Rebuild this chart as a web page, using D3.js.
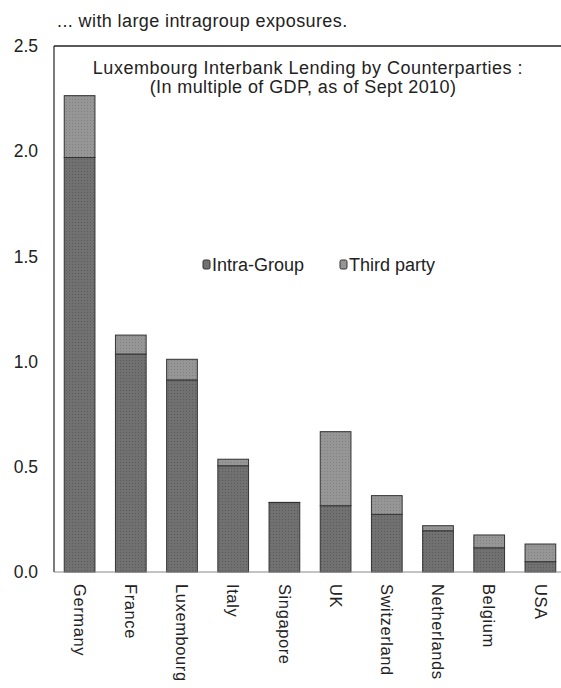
<!DOCTYPE html>
<html>
<head>
<meta charset="utf-8">
<script src="https://cdn.jsdelivr.net/npm/d3@7"></script>
<style>
  body { margin: 0; background: #fff; }
  svg { display: block; font-family: "Liberation Sans", Arial, sans-serif; }
</style>
</head>
<body>
<svg id="chart" width="561" height="688"></svg>
<script>
const categories = ["Germany","France","Luxembourg","Italy","Singapore","UK","Switzerland","Netherlands","Belgium","USA"];
const intraGroup = [1.97, 1.036, 0.913, 0.505, 0.33, 0.315, 0.274, 0.196, 0.115, 0.049];
const thirdParty = [0.294, 0.09, 0.098, 0.031, 0.001, 0.352, 0.089, 0.024, 0.061, 0.084];
const seriesNames = ["Intra-Group", "Third party"];
const yTicks = [0, 0.5, 1.0, 1.5, 2.0, 2.5];

const colors = {"Intra-Group": "#717171", "Third party": "#969696"};

const svg = d3.select("#chart");
const mLeft = 54, mRight = 566, mTop = 46, mBottom = 572;

const x = d3.scaleBand().domain(categories).range([mLeft, mRight]).paddingInner(0.4).paddingOuter(0.2);
const y = d3.scaleLinear().domain([0, 2.5]).range([mBottom, mTop]);

const rows = categories.map((c, i) => ({cat: c, "Intra-Group": intraGroup[i], "Third party": thirdParty[i]}));
const stacked = d3.stack().keys(seriesNames)(rows);

// stipple pattern for scanned look
const defs = svg.append("defs");
seriesNames.forEach((s, k) => {
  const p = defs.append("pattern").attr("id", "pat" + k).attr("width", 3).attr("height", 3).attr("patternUnits", "userSpaceOnUse");
  p.append("rect").attr("width", 3).attr("height", 3).attr("fill", colors[s]);
  p.append("rect").attr("width", 1).attr("height", 1).attr("fill", k === 0 ? "#5a5a5a" : "#808080");
});

// bars
stacked.forEach((layer, k) => {
  svg.append("g").selectAll("rect").data(layer).join("rect")
    .attr("x", d => x(d.data.cat))
    .attr("width", x.bandwidth())
    .attr("y", d => y(d[1]))
    .attr("height", d => Math.max(0, y(d[0]) - y(d[1])))
    .attr("fill", "url(#pat" + k + ")")
    .attr("stroke", "#333")
    .attr("stroke-width", 1);
});

// frame: left axis, top line, bottom line
svg.append("line").attr("x1", mLeft).attr("x2", mLeft).attr("y1", y(2.5)).attr("y2", y(0)).attr("stroke", "#222").attr("stroke-width", 1.2);
svg.append("line").attr("x1", mLeft).attr("x2", 561).attr("y1", y(2.5)).attr("y2", y(2.5)).attr("stroke", "#222").attr("stroke-width", 1.6);
svg.append("line").attr("x1", mLeft).attr("x2", 561).attr("y1", y(0)).attr("y2", y(0)).attr("stroke", "#888").attr("stroke-width", 1.2);

// y axis labels
const yAxis = d3.axisLeft(y).tickValues(yTicks).tickFormat(d3.format(".1f")).tickSize(0).tickPadding(16);
const ga = svg.append("g").attr("transform", `translate(${mLeft},0)`).call(yAxis);
ga.select(".domain").remove();
ga.selectAll("text").attr("font-size", 17.5).attr("fill", "#222").attr("font-family", "Liberation Sans, Arial, sans-serif");

// x labels rotated
const xAxis = d3.axisBottom(x).tickSize(0).tickPadding(0);
const gx = svg.append("g").attr("transform", `translate(0,${mBottom})`).call(xAxis);
gx.select(".domain").remove();
gx.selectAll("text")
  .attr("font-size", 16.5).attr("fill", "#222").attr("letter-spacing", 0.6)
  .attr("font-family", "Liberation Sans, Arial, sans-serif")
  .attr("text-anchor", "start")
  .attr("transform", "rotate(90)")
  .attr("x", 12).attr("y", 0).attr("dy", "0.35em");

// top caption
svg.append("text").attr("x", 57).attr("y", 27).attr("font-size", 18).attr("letter-spacing", 0.4).attr("fill", "#222")
  .text("... with large intragroup exposures.");

// inner title
svg.append("text").attr("x", 308).attr("y", 74).attr("text-anchor", "middle").attr("font-size", 18).attr("letter-spacing", 0.5).attr("fill", "#222")
  .text("Luxembourg Interbank Lending by Counterparties :");
svg.append("text").attr("x", 303).attr("y", 93).attr("text-anchor", "middle").attr("font-size", 18).attr("letter-spacing", 0.4).attr("fill", "#222")
  .text("(In multiple of GDP, as of Sept 2010)");

// legend
const legendX = [203, 340];
seriesNames.forEach((s, k) => {
  const g = svg.append("g").attr("transform", `translate(${legendX[k]},265)`);
  g.append("rect").attr("x", 0).attr("y", -5).attr("width", 7).attr("height", 9).attr("rx", 1.5)
    .attr("fill", colors[s]).attr("stroke", "#333").attr("stroke-width", 1);
  g.append("text").attr("x", 9).attr("y", 0).attr("dy", "0.35em").attr("font-size", 18).attr("fill", "#222").text(s);
});
</script>
</body>
</html>
